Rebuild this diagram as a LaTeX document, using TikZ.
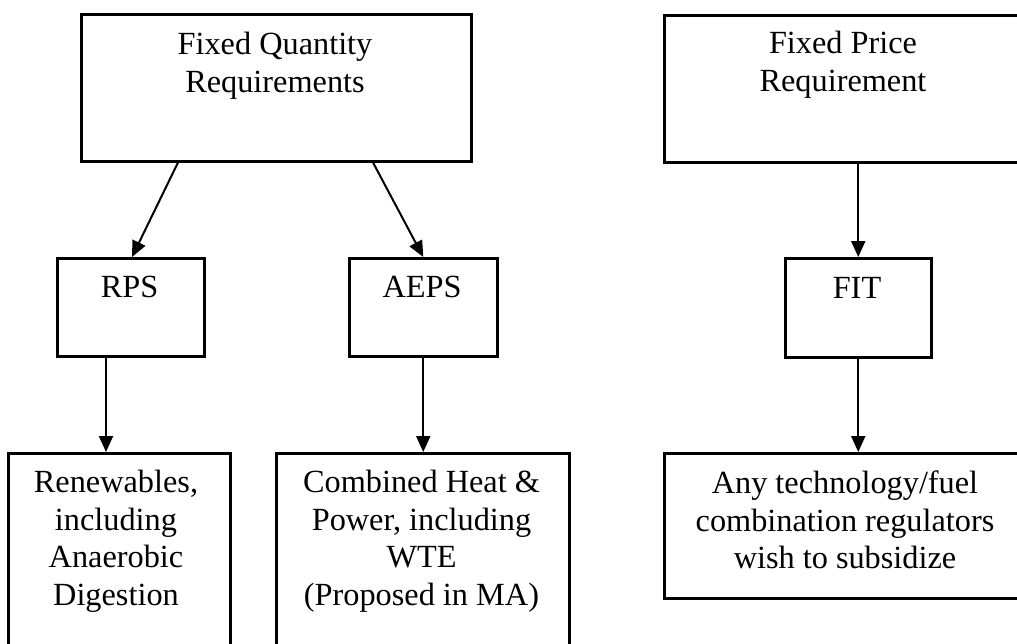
\documentclass[tikz,border=0pt]{standalone}
\usepackage{fontspec}
\setmainfont{Liberation Serif}
\usetikzlibrary{arrows.meta}

\begin{document}
\begin{tikzpicture}[x=1pt,y=-1pt,
  box/.style={draw, line width=2.5pt, rectangle, inner sep=0pt, anchor=north west},
  txt/.style={inner sep=0pt, align=center, font=\fontsize{32.3}{37.5}\selectfont},
  arr/.style={line width=2pt, -{Triangle[length=16pt,width=14pt]}}]
\useasboundingbox (0,0) rectangle (1017,643);

% boxes
\node[box, minimum width=390pt, minimum height=147pt] (fq)   at (80,13)  {};
\node[box, minimum width=360pt, minimum height=147pt] (fp)   at (663,14) {};
\node[box, minimum width=147pt, minimum height=98pt]  (rps)  at (56,257) {};
\node[box, minimum width=148pt, minimum height=98pt]  (aeps) at (348,257) {};
\node[box, minimum width=146pt, minimum height=99pt]  (fit)  at (784,257) {};
\node[box, minimum width=222pt, minimum height=200pt] (ren)  at (7,452)  {};
\node[box, minimum width=293pt, minimum height=200pt] (comb) at (275,452) {};
\node[box, minimum width=360pt, minimum height=145pt] (any)  at (663,452) {};

% labels
\node[txt, anchor=north] (fqt)   at (275,32)  {Fixed Quantity\\Requirements};
\node[txt, anchor=north] (fpt)   at (843,31)  {Fixed Price\\Requirement};
\node[txt, anchor=base]  (rpst)  at (129.5,297) {RPS};
\node[txt, anchor=base]  (aepst) at (422,297) {AEPS};
\node[txt, anchor=base]  (fitt)  at (857,298) {FIT};
\node[txt, anchor=north] (rent)  at (116,470) {Renewables,\\including\\Anaerobic\\Digestion};
\node[txt, anchor=north] (combt) at (421.5,470) {Combined Heat \&\\Power, including\\WTE\\(Proposed in MA)};
\node[txt, anchor=north] (anyt)  at (845,471) {Any technology/fuel\\combination regulators\\wish to subsidize};

% connectors
\draw[arr] ([xshift=98pt]fq.south west) -- ([xshift=76pt]rps.north west);
\draw[arr] ([xshift=293pt]fq.south west) -- (aeps.north);
\draw[arr] (fit.north |- fp.south) -- (fit.north);
\draw[arr] ([xshift=50pt]rps.south west) -- ([xshift=99pt]ren.north west);
\draw[arr] (aeps.south) -- (aeps.south |- comb.north);
\draw[arr] (fit.south) -- (fit.south |- any.north);
\end{tikzpicture}
\end{document}
